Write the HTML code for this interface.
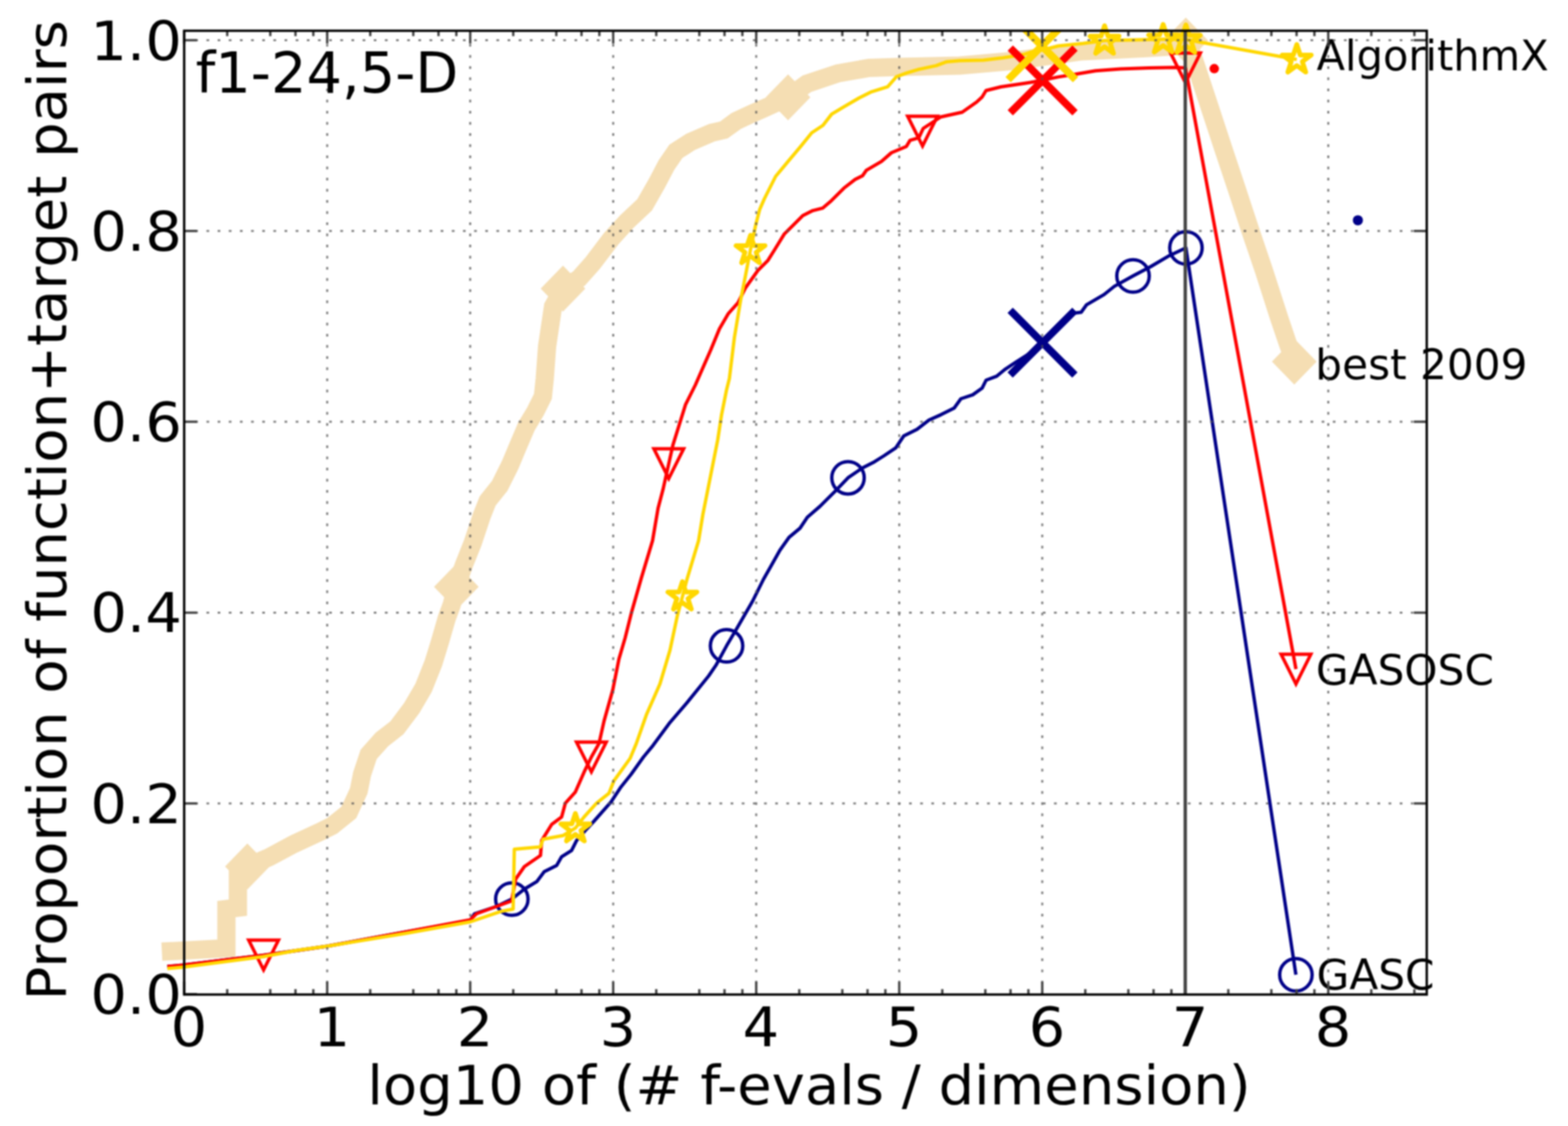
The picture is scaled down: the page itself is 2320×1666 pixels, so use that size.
<!DOCTYPE html><html><head><meta charset="utf-8"><title>f1-24,5-D</title><style>html,body{margin:0;padding:0;background:#fff;}svg{display:block;filter:blur(0.9px);}text{font-family:"DejaVu Sans","Liberation Sans",sans-serif;fill:#000;}</style></head><body>
<svg width="2320" height="1666" viewBox="0 0 2320 1666" xmlns="http://www.w3.org/2000/svg">
<defs><clipPath id="ax"><rect x="272.5" y="45.5" width="1838.5" height="1426.0"/></clipPath></defs>
<rect width="2320" height="1666" fill="#fff"/>
<text transform="translate(1948,104) scale(0.984,1)" font-size="62.5">AlgorithmX</text>
<text x="1946" y="561" font-size="62.5">best 2009</text>
<text x="1947" y="1013" font-size="62.5">GASOSC</text>
<text x="1948" y="1464" font-size="62.5">GASC</text>
<polyline points="239.5,1408.0 335.0,1403.0 335.0,1345.0 352.0,1343.0 352.0,1290.0 366.0,1282.0 398.2,1268.3 435.0,1248.7 471.9,1231.5 491.5,1221.7 516.1,1202.0 530.8,1170.1 535.7,1145.5 545.5,1116.1 565.2,1094.0 587.3,1076.8 609.4,1047.3 626.6,1017.9 641.3,981.0 651.1,949.1 661.0,914.7 668.3,895.0 675.2,868.2 686.3,836.1 699.5,803.0 712.8,763.2 721.6,741.1 739.3,719.0 754.7,688.1 765.8,661.6 779.0,630.7 792.3,608.6 803.3,586.5 806.0,560.0 809.5,512.4 818.3,453.5 833.0,427.0 856.6,412.2 877.2,389.0 903.7,354.0 927.3,328.0 953.8,303.0 971.5,272.0 986.2,244.0 1000.0,224.0 1021.8,210.0 1053.2,196.3 1071.0,192.3 1089.3,179.0 1112.8,168.0 1133.5,159.0 1166.0,144.0 1193.7,124.0 1239.7,108.5 1285.7,100.5 1330.9,99.0 1377.8,98.0 1420.0,97.0 1500.0,90.0 1600.0,76.0 1700.0,71.0 1745.0,68.0 1754.5,64.0 1762.0,75.0 1770.5,100.0 1787.0,150.0 1810.0,220.0 1830.0,280.0 1850.0,341.0 1870.0,400.0 1892.5,470.0 1905.0,507.0 1915.0,535.0" fill="none" stroke="#f5deb3" stroke-width="27" stroke-linejoin="miter" stroke-linecap="butt" stroke-miterlimit="1.6"/>
<polygon points="366.0,1248.0 399.0,1282.0 366.0,1316.0 333.0,1282.0" fill="#f5deb3"/>
<polygon points="675.2,834.2 708.2,868.2 675.2,902.2 642.2,868.2" fill="#f5deb3"/>
<polygon points="833.0,393.0 866.0,427.0 833.0,461.0 800.0,427.0" fill="#f5deb3"/>
<polygon points="1166.0,110.0 1199.0,144.0 1166.0,178.0 1133.0,144.0" fill="#f5deb3"/>
<polygon points="1754.5,26.0 1787.5,60.0 1754.5,94.0 1721.5,60.0" fill="#f5deb3"/>
<polygon points="1915.0,501.0 1948.0,535.0 1915.0,569.0 1882.0,535.0" fill="#f5deb3"/>
<polyline points="247.6,1430.0 270.0,1428.0 389.0,1413.5 484.0,1400.0 586.0,1381.5 695.6,1362.0 702.0,1352.0 735.0,1341.0 757.3,1330.2 775.8,1315.5 794.2,1304.4 805.2,1289.7 823.6,1280.5 831.0,1267.6 845.7,1258.4 853.1,1243.6 866.0,1228.9 878.9,1215.0 904.2,1186.3 918.9,1164.2 933.7,1145.8 952.1,1120.0 966.1,1103.1 990.1,1070.4 1015.9,1040.4 1048.6,1000.0 1059.4,984.2 1075.0,955.6 1090.7,928.9 1113.5,889.5 1129.7,857.0 1140.5,838.0 1154.0,814.0 1167.5,795.0 1183.7,781.5 1194.5,765.3 1213.4,749.0 1235.0,727.5 1254.7,706.9 1276.3,692.2 1292.0,684.3 1307.7,674.5 1325.4,662.7 1337.2,645.0 1356.8,635.2 1374.5,621.5 1392.2,613.6 1411.8,603.8 1421.7,590.0 1439.3,584.1 1453.1,574.3 1459.0,562.5 1474.7,556.6 1486.5,546.8 1504.2,535.0 1525.8,521.3 1542.5,507.0 1587.4,463.5 1599.7,462.0 1607.4,451.2 1633.5,435.9 1648.8,423.6 1676.4,408.3 1702.5,394.5 1728.6,379.1 1754.7,366.8 1917.4,1442.2" fill="none" stroke="#000088" stroke-width="5" stroke-linejoin="round" stroke-linecap="butt" />
<circle cx="757.3" cy="1330.2" r="24" fill="none" stroke="#000088" stroke-width="5"/>
<circle cx="1075.0" cy="955.6" r="24" fill="none" stroke="#000088" stroke-width="5"/>
<circle cx="1254.7" cy="706.9" r="24" fill="none" stroke="#000088" stroke-width="5"/>
<circle cx="1676.4" cy="408.3" r="24" fill="none" stroke="#000088" stroke-width="5"/>
<circle cx="1754.7" cy="366.8" r="24" fill="none" stroke="#000088" stroke-width="5"/>
<circle cx="1917.4" cy="1442.2" r="24" fill="none" stroke="#000088" stroke-width="5"/>
<polyline points="247.6,1430.0 270.0,1428.0 389.0,1413.5 484.0,1400.0 586.0,1381.5 695.6,1361.0 705.0,1352.0 757.0,1333.0 762.9,1300.7 775.8,1282.3 799.7,1265.7 801.5,1243.6 816.3,1219.7 831.0,1208.7 836.5,1188.4 851.3,1171.8 864.2,1142.4 875.0,1120.0 886.3,1100.0 893.7,1067.0 906.6,1021.0 915.8,975.0 925.0,943.6 934.2,906.8 948.9,855.2 965.5,800.0 973.7,751.8 981.0,724.2 989.5,686.0 995.8,657.9 1014.2,598.9 1028.9,569.5 1041.8,540.0 1051.6,517.8 1064.5,486.5 1077.3,464.4 1092.0,447.8 1103.1,425.7 1121.5,400.0 1136.3,385.2 1145.5,370.5 1160.2,346.6 1176.8,330.0 1187.8,318.9 1202.6,311.6 1217.3,307.9 1230.2,296.8 1248.6,278.4 1265.2,265.5 1276.2,260.0 1282.0,251.8 1304.2,238.9 1318.9,226.0 1341.0,216.8 1346.5,207.6 1359.4,203.9 1366.0,190.0 1392.0,173.0 1423.7,166.0 1445.0,151.0 1453.3,143.3 1458.9,134.0 1481.0,128.5 1518.0,123.0 1530.0,121.0 1542.7,118.5 1565.7,113.9 1593.0,109.5 1621.0,104.7 1657.8,102.0 1700.0,100.5 1740.0,99.8 1754.0,100.5 1917.5,990.0" fill="none" stroke="#ff0000" stroke-width="5" stroke-linejoin="round" stroke-linecap="butt" />
<path d="M368.0,1391.0 L412.0,1391.0 L390.0,1435.0 Z" fill="none" stroke="#ff0000" stroke-width="5" stroke-linejoin="miter"/>
<path d="M853.0,1098.0 L897.0,1098.0 L875.0,1142.0 Z" fill="none" stroke="#ff0000" stroke-width="5" stroke-linejoin="miter"/>
<path d="M967.5,664.0 L1011.5,664.0 L989.5,708.0 Z" fill="none" stroke="#ff0000" stroke-width="5" stroke-linejoin="miter"/>
<path d="M1343.0,172.0 L1387.0,172.0 L1365.0,216.0 Z" fill="none" stroke="#ff0000" stroke-width="5" stroke-linejoin="miter"/>
<path d="M1732.0,78.5 L1776.0,78.5 L1754.0,122.5 Z" fill="none" stroke="#ff0000" stroke-width="5" stroke-linejoin="miter"/>
<path d="M1895.5,968.0 L1939.5,968.0 L1917.5,1012.0 Z" fill="none" stroke="#ff0000" stroke-width="5" stroke-linejoin="miter"/>
<circle cx="1796.6" cy="101.6" r="7" fill="#ff0000"/>
<polyline points="247.6,1433.0 270.0,1431.0 389.0,1415.5 440.0,1406.0 484.0,1400.0 600.0,1381.0 695.6,1364.0 740.8,1348.6 759.2,1345.0 761.0,1256.5 799.7,1252.9 803.4,1241.8 832.9,1236.3 851.3,1225.2 864.2,1208.7 882.6,1188.4 901.0,1173.7 908.4,1155.2 932.3,1122.1 941.5,1100.0 956.3,1057.8 976.5,1011.8 991.3,962.0 1002.3,910.5 1009.7,882.9 1017.0,855.2 1033.6,800.0 1040.0,761.0 1051.0,705.7 1062.0,650.5 1067.6,613.7 1075.0,576.8 1079.2,560.0 1086.6,499.4 1095.8,444.2 1103.1,407.3 1110.5,369.0 1117.9,333.7 1124.0,310.0 1131.0,294.0 1147.6,261.0 1166.0,238.9 1184.5,216.8 1201.0,196.5 1217.6,185.5 1230.5,168.9 1248.9,157.9 1271.0,145.0 1289.4,135.8 1313.4,128.4 1326.3,113.7 1341.0,108.1 1359.4,102.6 1385.2,97.1 1399.9,91.6 1420.0,89.7 1455.2,89.0 1484.0,85.5 1514.2,80.8 1528.9,76.0 1542.5,74.0 1565.7,68.0 1602.6,64.2 1634.3,60.0 1680.0,59.0 1721.0,58.0 1754.6,58.5 1918.7,88.0" fill="none" stroke="#ffd700" stroke-width="5" stroke-linejoin="round" stroke-linecap="butt" />
<polygon points="851.3,1203.5 856.4,1219.0 872.7,1219.0 859.5,1228.7 864.5,1244.2 851.3,1234.6 838.1,1244.2 843.1,1228.7 829.9,1219.0 846.2,1219.0" fill="none" stroke="#ffd700" stroke-width="7" stroke-linejoin="round"/>
<polygon points="1009.7,860.5 1014.8,876.0 1031.1,876.0 1017.9,885.7 1022.9,901.2 1009.7,891.6 996.5,901.2 1001.5,885.7 988.3,876.0 1004.6,876.0" fill="none" stroke="#ffd700" stroke-width="7" stroke-linejoin="round"/>
<polygon points="1110.5,348.0 1115.6,363.5 1131.9,363.5 1118.7,373.2 1123.7,388.7 1110.5,379.1 1097.3,388.7 1102.3,373.2 1089.1,363.5 1105.4,363.5" fill="none" stroke="#ffd700" stroke-width="7" stroke-linejoin="round"/>
<polygon points="1634.3,38.1 1639.4,53.6 1655.7,53.6 1642.5,63.3 1647.5,78.8 1634.3,69.2 1621.1,78.8 1626.1,63.3 1612.9,53.6 1629.2,53.6" fill="none" stroke="#ffd700" stroke-width="7" stroke-linejoin="round"/>
<polygon points="1721.0,36.2 1726.1,51.7 1742.4,51.7 1729.2,61.4 1734.2,76.9 1721.0,67.3 1707.8,76.9 1712.8,61.4 1699.6,51.7 1715.9,51.7" fill="none" stroke="#ffd700" stroke-width="7" stroke-linejoin="round"/>
<polygon points="1754.6,36.8 1759.7,52.3 1776.0,52.3 1762.8,62.0 1767.8,77.5 1754.6,67.9 1741.4,77.5 1746.4,62.0 1733.2,52.3 1749.5,52.3" fill="none" stroke="#ffd700" stroke-width="7" stroke-linejoin="round"/>
<polygon points="1918.7,65.9 1923.8,81.4 1940.1,81.4 1926.9,91.1 1931.9,106.6 1918.7,97.0 1905.5,106.6 1910.5,91.1 1897.3,81.4 1913.6,81.4" fill="none" stroke="#ffd700" stroke-width="7" stroke-linejoin="round"/>
<circle cx="2009.1" cy="325.9" r="7.5" fill="#000088"/>
<g clip-path="url(#ax)">
<path d="M1498.5,463.0 L1586.5,551.0 M1498.5,551.0 L1586.5,463.0" stroke="#000088" stroke-width="11" stroke-linecap="square" fill="none"/>
<path d="M1498.7,75.0 L1586.7,163.0 M1498.7,163.0 L1586.7,75.0" stroke="#ff0000" stroke-width="11" stroke-linecap="square" fill="none"/>
<path d="M1495.5,22.0 L1587.5,114.0 M1495.5,114.0 L1587.5,22.0" stroke="#ffd700" stroke-width="11" stroke-linecap="square" fill="none"/>
</g>
<path d="M484.1,1471.5V45.5M695.7,1471.5V45.5M907.3,1471.5V45.5M1118.9,1471.5V45.5M1330.5,1471.5V45.5M1542.1,1471.5V45.5M1753.7,1471.5V45.5M1965.3,1471.5V45.5M272.5,1188.7H2111.0M272.5,906.4H2111.0M272.5,624.1H2111.0M272.5,341.8H2111.0M272.5,59.5H2111.0" stroke="#555" stroke-width="3" stroke-dasharray="4 12.5" fill="none" opacity="0.75"/>
<path d="M1753.7,45.5V1471.5" stroke="#444" stroke-width="5" fill="none"/>
<path d="M272.5,1471.5v-19M272.5,45.5v19M336.2,1471.5v-8M336.2,45.5v8M399.9,1471.5v-8M399.9,45.5v8M437.2,1471.5v-8M437.2,45.5v8M463.6,1471.5v-8M463.6,45.5v8M484.1,1471.5v-19M484.1,45.5v19M547.8,1471.5v-8M547.8,45.5v8M611.5,1471.5v-8M611.5,45.5v8M648.8,1471.5v-8M648.8,45.5v8M675.2,1471.5v-8M675.2,45.5v8M695.7,1471.5v-19M695.7,45.5v19M759.4,1471.5v-8M759.4,45.5v8M823.1,1471.5v-8M823.1,45.5v8M860.4,1471.5v-8M860.4,45.5v8M886.8,1471.5v-8M886.8,45.5v8M907.3,1471.5v-19M907.3,45.5v19M971.0,1471.5v-8M971.0,45.5v8M1034.7,1471.5v-8M1034.7,45.5v8M1072.0,1471.5v-8M1072.0,45.5v8M1098.4,1471.5v-8M1098.4,45.5v8M1118.9,1471.5v-19M1118.9,45.5v19M1182.6,1471.5v-8M1182.6,45.5v8M1246.3,1471.5v-8M1246.3,45.5v8M1283.6,1471.5v-8M1283.6,45.5v8M1310.0,1471.5v-8M1310.0,45.5v8M1330.5,1471.5v-19M1330.5,45.5v19M1394.2,1471.5v-8M1394.2,45.5v8M1457.9,1471.5v-8M1457.9,45.5v8M1495.2,1471.5v-8M1495.2,45.5v8M1521.6,1471.5v-8M1521.6,45.5v8M1542.1,1471.5v-19M1542.1,45.5v19M1605.8,1471.5v-8M1605.8,45.5v8M1669.5,1471.5v-8M1669.5,45.5v8M1706.8,1471.5v-8M1706.8,45.5v8M1733.2,1471.5v-8M1733.2,45.5v8M1753.7,1471.5v-19M1753.7,45.5v19M1817.4,1471.5v-8M1817.4,45.5v8M1881.1,1471.5v-8M1881.1,45.5v8M1918.4,1471.5v-8M1918.4,45.5v8M1944.8,1471.5v-8M1944.8,45.5v8M1965.3,1471.5v-19M1965.3,45.5v19M2029.0,1471.5v-8M2029.0,45.5v8M2092.7,1471.5v-8M2092.7,45.5v8M272.5,1471.0h19M2111.0,1471.0h-19M272.5,1188.7h19M2111.0,1188.7h-19M272.5,906.4h19M2111.0,906.4h-19M272.5,624.1h19M2111.0,624.1h-19M272.5,341.8h19M2111.0,341.8h-19M272.5,59.5h19M2111.0,59.5h-19" stroke="#444" stroke-width="3.5" fill="none"/>
<rect x="272.5" y="45.5" width="1838.5" height="1426.0" fill="none" stroke="#000" stroke-width="3.5"/>
<text transform="translate(279.5,1548.0) scale(1.0500,1)" font-size="81" text-anchor="middle">0</text>
<text transform="translate(491.1,1548.0) scale(1.0500,1)" font-size="81" text-anchor="middle">1</text>
<text transform="translate(702.7,1548.0) scale(1.0500,1)" font-size="81" text-anchor="middle">2</text>
<text transform="translate(914.3,1548.0) scale(1.0500,1)" font-size="81" text-anchor="middle">3</text>
<text transform="translate(1125.9,1548.0) scale(1.0500,1)" font-size="81" text-anchor="middle">4</text>
<text transform="translate(1337.5,1548.0) scale(1.0500,1)" font-size="81" text-anchor="middle">5</text>
<text transform="translate(1549.1,1548.0) scale(1.0500,1)" font-size="81" text-anchor="middle">6</text>
<text transform="translate(1760.7,1548.0) scale(1.0500,1)" font-size="81" text-anchor="middle">7</text>
<text transform="translate(1972.3,1548.0) scale(1.0500,1)" font-size="81" text-anchor="middle">8</text>
<text transform="translate(269.0,1500.0) scale(1.0500,1)" font-size="81" text-anchor="end">0.0</text>
<text transform="translate(269.0,1217.7) scale(1.0500,1)" font-size="81" text-anchor="end">0.2</text>
<text transform="translate(269.0,935.4) scale(1.0500,1)" font-size="81" text-anchor="end">0.4</text>
<text transform="translate(269.0,653.1) scale(1.0500,1)" font-size="81" text-anchor="end">0.6</text>
<text transform="translate(269.0,370.8) scale(1.0500,1)" font-size="81" text-anchor="end">0.8</text>
<text transform="translate(269.0,88.5) scale(1.0500,1)" font-size="81" text-anchor="end">1.0</text>
<text transform="translate(1197.0,1633.5) scale(1.0240,1)" font-size="81" text-anchor="middle">log10 of (# f-evals / dimension)</text>
<text transform="translate(98.0,755.0) rotate(-90) scale(1.0235,1)" font-size="81" text-anchor="middle">Proportion of function+target pairs</text>
<text transform="translate(289.5,137.0) scale(0.9950,1)" font-size="83" text-anchor="start">f1-24,5-D</text>
</svg></body></html>
